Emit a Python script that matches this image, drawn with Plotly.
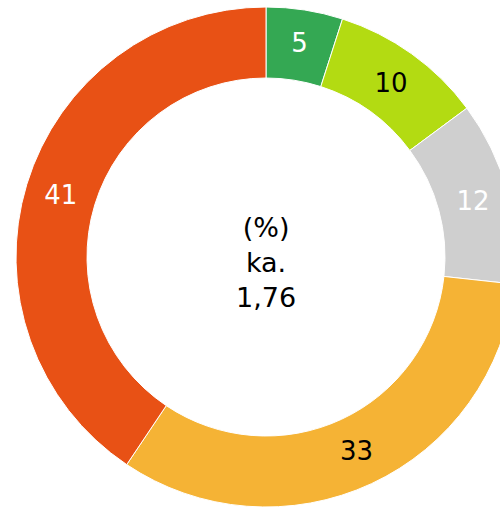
import plotly.graph_objects as go

labels = ["A", "B", "C", "D", "E"]
values = [5, 10, 12, 33, 41]
colors = ["#34A853", "#B3DB12", "#CFCFCF", "#F5B335", "#E85115"]
text_colors = ["white", "black", "white", "black", "white"]
center_text = "(%)<br>ka.<br>1,76"

W, H = 532, 508
fig = go.Figure(go.Pie(
    labels=labels,
    values=values,
    sort=False,
    direction="clockwise",
    rotation=0,
    hole=0.716,
    marker=dict(colors=colors, line=dict(color="white", width=1)),
    texttemplate="%{value}",
    textposition="inside",
    insidetextorientation="horizontal",
    textfont=dict(family="DejaVu Sans", size=26, color=text_colors),
    domain=dict(x=[16 / W, 516 / W], y=[1 / H, 501 / H]),
    showlegend=False,
    hoverinfo="none",
))
fig.add_annotation(
    text=center_text, x=266 / W, y=1 - 262 / H, xref="paper", yref="paper",
    showarrow=False, font=dict(family="DejaVu Sans", size=27, color="black"),
)
fig.update_layout(
    width=W, height=H, margin=dict(l=0, r=0, t=0, b=0),
    paper_bgcolor="white", plot_bgcolor="white",
)
fig.write_html("out.html", config={"displayModeBar": False},
               post_script="document.body.style.margin='0';document.body.style.overflow='hidden';")
